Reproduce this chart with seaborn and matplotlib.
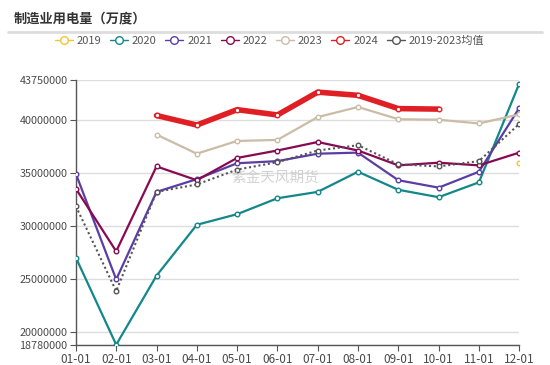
import numpy as np
import pandas as pd
import matplotlib
matplotlib.use("Agg")
import matplotlib.pyplot as plt
import seaborn as sns
from matplotlib.lines import Line2D

months = ["01-01", "02-01", "03-01", "04-01", "05-01", "06-01",
          "07-01", "08-01", "09-01", "10-01", "11-01", "12-01"]
nan = np.nan

# values in 万度
v2019 = [nan, nan, nan, nan, nan, nan, nan, nan, nan, nan, nan, 35900000]
v2020 = [27000000, 18800000, 25300000, 30100000, 31100000, 32600000,
         33200000, 35100000, 33400000, 32700000, 34100000, 43400000]
v2021 = [34900000, 24950000, 33200000, 34400000, 35900000, 36100000,
         36800000, 36900000, 34300000, 33600000, 35100000, 41100000]
v2022 = [33500000, 27600000, 35600000, 34300000, 36400000, 37100000,
         37900000, 37100000, 35700000, 35950000, 35700000, 36900000]
v2023 = [nan, nan, 38600000, 36800000, 38000000, 38100000,
         40250000, 41200000, 40050000, 40000000, 39650000, 40500000]
v2024 = [nan, nan, 40400000, 39500000, 40950000, 40450000,
         42600000, 42300000, 41050000, 41000000, nan, nan]
vmean = [31850000, 23850000, 33200000, 33900000, 35300000, 36000000,
         37100000, 37600000, 35800000, 35600000, 36100000, 39600000]

yticks = [18780000, 20000000, 25000000, 30000000, 35000000, 40000000, 43750000]

series = [
    ("2019", v2019, "#f2c530", 1.5, "-"),
    ("2020", v2020, "#13878a", 1.6, "-"),
    ("2021", v2021, "#5a3ea6", 1.6, "-"),
    ("2022", v2022, "#870a52", 1.6, "-"),
    ("2023", v2023, "#cbbca6", 1.6, "-"),
    ("2024", v2024, "#e01f25", 4.0, "-"),
    ("2019-2023均值", vmean, "#555555", 1.5, (0, (1, 1.3))),
]

sns.set_style("white")
plt.rcParams["font.family"] = ["Noto Sans CJK SC", "DejaVu Sans"]

fig = plt.figure(figsize=(5.5, 3.65), dpi=100)
ax = fig.add_axes([0.138, 0.055, 0.806, 0.726])

x = np.arange(len(months))
for name, vals, color, lw, ls in series:
    df = pd.DataFrame({"x": x, "y": vals}).dropna()
    sns.lineplot(data=df, x="x", y="y", ax=ax, color=color, linewidth=lw,
                 linestyle=ls, marker="o", markersize=3.3,
                 markerfacecolor="white", markeredgecolor=color,
                 markeredgewidth=1.0, zorder=3 if name != "2024" else 4)

ax.set_xlim(0, 11)
ax.set_ylim(18780000, 43750000)
ax.set_xticks(x)
ax.set_xticklabels(months)
ax.set_yticks(yticks)
ax.set_yticklabels([str(t) for t in yticks])
ax.set_xlabel("")
ax.set_ylabel("")
ax.yaxis.grid(True, color="#dddddd", linewidth=1)
ax.xaxis.grid(False)
for s in ["top", "right"]:
    ax.spines[s].set_visible(False)
for s in ["left", "bottom"]:
    ax.spines[s].set_color("#555555")
    ax.spines[s].set_linewidth(1)
ax.tick_params(axis="both", length=4, color="#555555",
               labelcolor="#4a4a4a", left=True, bottom=True, pad=2)
ax.tick_params(axis="x", labelsize=8.5)
ax.tick_params(axis="y", labelsize=7.8)

ax.text(4.94, 34500000, "紫金天风期货", color="#c8c8c8", alpha=0.8,
        fontsize=10.5, ha="center", va="center", zorder=6)

fig.text(0.025, 0.95, "制造业用电量（万度）", fontsize=9.5, fontweight="bold",
         color="#333333", va="center")
fig.add_artist(Line2D([0.015, 0.985], [0.912, 0.912], color="#dddddd",
                      linewidth=2, transform=fig.transFigure))

handles = [Line2D([0], [0], color=c, linewidth=1.0, marker="o", markersize=5.5,
                  markerfacecolor="white", markeredgecolor=c)
           for _, _, c, _, _ in series]
labels = [n for n, _, _, _, _ in series]
fig.legend(handles, labels, loc="center", bbox_to_anchor=(0.49, 0.887),
           ncol=7, frameon=False, fontsize=8, handlelength=1.6,
           handletextpad=0.35, columnspacing=0.8, labelcolor="#555555")

fig.savefig("out.png", dpi=100)
